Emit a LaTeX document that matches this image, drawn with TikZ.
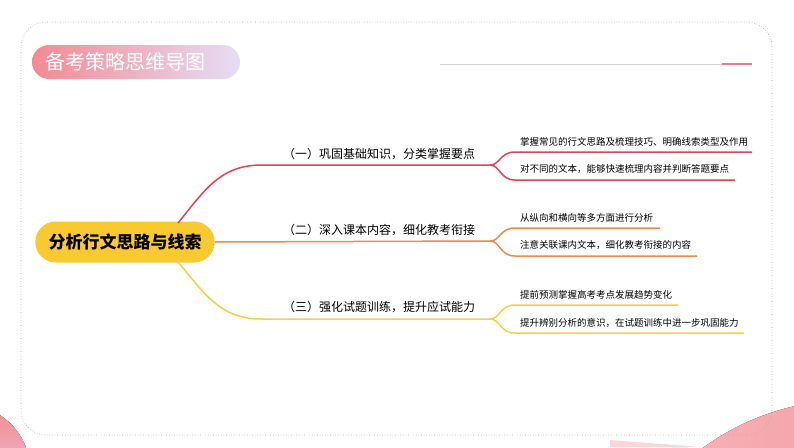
\documentclass[tikz,border=0pt]{standalone}
\usepackage{fontspec}
\newfontfamily\cjk{Noto Sans CJK SC}
\usetikzlibrary{shapes.misc}
\definecolor{cred}{HTML}{D9455A}
\definecolor{corange}{HTML}{EC8A55}
\definecolor{cyellow}{HTML}{F3D044}
\definecolor{cpill}{HTML}{F9C932}
\definecolor{cpink}{HTML}{F28A92}
\definecolor{clav}{HTML}{E6DDF6}
\tikzset{
  br/.style={line width=1.5pt},
  mtext/.style={font=\cjk\fontsize{12}{14}\selectfont, anchor=base west, inner sep=0},
  stext/.style={font=\cjk\fontsize{9.5}{11}\selectfont, anchor=base west, inner sep=0},
}
\begin{document}
\begin{tikzpicture}[x=1pt,y=-1pt]
\useasboundingbox (0,0) rectangle (794,447);
\fill[white] (0,0) rectangle (794,447);
% corner decorations
\begin{scope}
\clip (0,0) rectangle (794,447);
\fill[top color=cpink, bottom color=clav] (-35,470) circle (65);
\fill[cpink!35] (610,440) -- (700,447) -- (610,447) -- cycle;
\fill[left color=cpink!60, right color=cpink] (850,650) circle (250);
\end{scope}
% frame
\draw[gray!70, dotted, line width=0.6pt, rounded corners=25] (21,22) rectangle (772,435);
% header line
\draw[gray!35, line width=0.8pt] (440,64) -- (722,64);
\draw[cred!70, line width=1.5pt] (722,64) -- (752,64);
% title
\node[rounded rectangle, left color=cpink, right color=clav, minimum width=208, minimum height=34, inner sep=0] (title) at (136,62) {};
\node[font=\cjk\fontsize{20}{24}\selectfont, text=white, anchor=west] (titletxt) at (42,62) {备考策略思维导图};
% central node
\node[rounded rectangle, fill=cpill, minimum width=186, minimum height=41, font=\cjk\bfseries\fontsize{17}{20}\selectfont] (c) at (125,242) {分析行文思路与线索};
% main branch ends
\coordinate (a1) at (490,165);
\coordinate (a2) at (490,241);
\coordinate (a3) at (490,319);
\draw[br, cred] (178,223) .. controls (205,190) and (220,165) .. (262,165) -- (a1);
\draw[br, corange] (c.east) -- (a2);
\draw[br, cyellow] (178,262) .. controls (205,294) and (220,319) .. (262,319) -- (a3);
\node[mtext] (t1) at (283,158) {（一）巩固基础知识，分类掌握要点};
\node[mtext] (t2) at (283,234) {（二）深入课本内容，细化教考衔接};
\node[mtext] (t3) at (283,311) {（三）强化试题训练，提升应试能力};
% sub branches
\coordinate (e11) at (752,152); \coordinate (e12) at (735,180);
\coordinate (e21) at (660,228); \coordinate (e22) at (697,256);
\coordinate (e31) at (678,305); \coordinate (e32) at (744,333);
\draw[br, cred] (a1) .. controls (500,165) and (500,152) .. (515,152) -- (e11);
\draw[br, cred] (a1) .. controls (500,165) and (500,180) .. (515,180) -- (e12);
\draw[br, corange] (a2) .. controls (500,241) and (500,228) .. (515,228) -- (e21);
\draw[br, corange] (a2) .. controls (500,241) and (500,256) .. (515,256) -- (e22);
\draw[br, cyellow] (a3) .. controls (500,319) and (500,305) .. (515,305) -- (e31);
\draw[br, cyellow] (a3) .. controls (500,319) and (500,333) .. (515,333) -- (e32);
\node[stext] (s11) at (520,145) {掌握常见的行文思路及梳理技巧、明确线索类型及作用};
\node[stext] (s12) at (520,172) {对不同的文本，能够快速梳理内容并判断答题要点};
\node[stext] (s21) at (520,221) {从纵向和横向等多方面进行分析};
\node[stext] (s22) at (520,248) {注意关联课内文本，细化教考衔接的内容};
\node[stext] (s31) at (520,298) {提前预测掌握高考考点发展趋势变化};
\node[stext] (s32) at (520,326) {提升辨别分析的意识，在试题训练中进一步巩固能力};
\end{tikzpicture}
\end{document}
